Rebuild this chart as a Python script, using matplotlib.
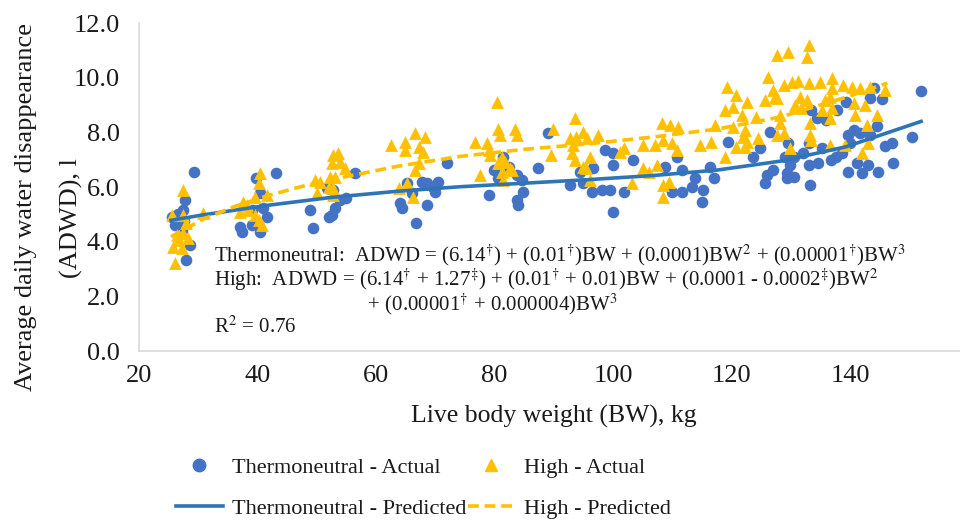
import matplotlib
matplotlib.use("Agg")
import matplotlib.pyplot as plt
from matplotlib.lines import Line2D

plt.rcParams['font.family'] = ['Liberation Serif', 'DejaVu Serif']
plt.rcParams['mathtext.fontset'] = 'stix'

# Thermoneutral - Actual (BW kg, ADWD l)
tn_bw = [29.2, 25.5, 26.1, 27.8, 27.5, 28.6, 28.0, 27.2, 26.5, 27.6,
         39.8, 43.2, 37.0, 37.4, 39.0, 40.4, 41.6, 40.4, 39.0, 40.9,
         56.4, 48.8, 49.4, 51.7, 52.7, 52.0, 52.5, 53.1, 53.9, 55.0,
         71.9, 64.0, 64.4, 66.8, 68.6, 65.2, 67.7, 68.6, 69.7, 70.0, 70.5, 66.0,
         79.0, 79.9, 80.6, 81.5, 82.4, 83.8, 84.6, 84.8, 83.8, 84.0,
         87.3, 89.1, 92.8, 94.4, 96.7, 95.0, 96.5, 98.1, 99.5, 98.6, 100.0, 100.0,
         100.0, 101.8, 103.4,
         108.8, 110.8, 111.6, 109.9, 111.6, 113.8, 113.3, 115.2, 115.0, 116.4,
         117.0, 119.4, 123.7, 124.8, 126.5, 126.0, 125.6, 127.0,
         151.9, 150.5, 147.3, 145.9, 147.1, 144.5, 145.4, 143.4, 144.0, 143.4,
         139.7, 140.6, 141.7, 140.0, 138.6, 139.7, 141.1, 142.0, 143.1, 144.8,
         136.8, 137.7, 134.6, 133.0, 132.1, 130.5, 129.0, 129.9, 129.3, 129.3,
         130.5, 133.3, 133.0, 137.8, 139.3, 134.4, 136.0, 133.4, 129.6, 135.2]
tn_adwd = [6.56, 4.91, 4.61, 5.52, 5.16, 3.88, 3.33, 4.43, 5.00, 4.75,
           6.33, 6.51, 4.55, 4.37, 4.61, 4.37, 4.91, 5.77, 5.16, 5.23,
           6.50, 5.16, 4.49, 5.95, 5.89, 4.91, 4.98, 5.22, 5.53, 5.59,
           6.87, 5.40, 5.22, 4.67, 5.34, 6.13, 6.19, 6.13, 6.01, 5.83, 6.19, 5.77,
           5.71, 6.62, 6.32, 7.11, 6.74, 6.44, 6.26, 5.83, 5.53, 5.34,
           6.68, 7.96, 6.07, 6.56, 6.68, 6.13, 5.83, 5.89, 5.89, 7.35, 6.81, 5.10,
           7.23, 5.83, 6.99,
           6.74, 7.11, 6.62, 5.83, 5.83, 6.32, 6.01, 5.89, 5.46, 6.74,
           6.32, 7.66, 7.11, 7.41, 8.02, 6.44, 6.13, 6.62,
           9.52, 7.84, 6.89, 7.50, 7.60, 8.23, 9.21, 9.27, 9.61, 7.90,
           7.90, 8.09, 7.96, 7.60, 7.23, 6.56, 6.87, 6.50, 6.81, 6.56,
           6.99, 7.11, 6.87, 6.81, 7.23, 7.11, 7.11, 6.81, 6.50, 6.32,
           6.38, 6.07, 7.60, 8.82, 9.12, 8.51, 8.45, 8.82, 7.60, 7.41]

# High - Actual
hi_bw = [27.5, 25.5, 27.5, 28.0, 26.4, 27.5, 28.3, 25.7, 27.2, 26.1, 26.5, 30.8,
         40.4, 40.2, 39.6, 41.6, 37.6, 37.0, 38.4, 39.6, 40.2, 40.7, 38.2,
         52.7, 53.6, 52.5, 53.9, 54.8, 49.7, 50.6, 52.2, 53.1, 52.0, 52.7, 50.0, 52.7,
         62.6, 64.9, 66.6, 68.3, 64.9, 67.2, 68.0, 66.6, 67.2, 65.2, 63.8, 66.3,
         80.4, 80.6, 83.4, 80.9, 83.8, 76.7, 78.7, 79.0, 79.2, 81.2, 80.6, 81.8,
         82.6, 81.2, 81.5, 82.9, 77.6,
         89.9, 89.6, 93.6, 95.0, 92.8, 93.8, 95.6, 97.5, 93.3, 93.0, 93.6, 96.1,
         95.0, 95.4, 96.1, 101.2,
         101.8, 105.1, 107.1, 108.2, 109.6, 111.0, 108.5, 109.9, 110.8, 107.4, 105.1,
         106.0, 103.2, 108.5, 109.4, 108.5,
         114.7, 116.6, 117.2, 118.9, 119.2, 120.8, 122.6, 120.3, 118.9, 121.7, 124.2,
         120.3, 122.3, 122.0, 122.6, 120.8, 124.5, 122.3, 126.2, 127.6, 127.0, 125.6,
         127.6,
         129.6, 133.0, 132.7, 128.8, 127.4, 130.2, 131.3, 133.0, 134.9, 136.9, 138.9,
         140.3, 141.7, 143.4, 145.9, 136.9, 136.6, 135.8, 131.6, 132.7, 130.7, 131.8,
         135.3, 136.9, 140.6, 142.5, 140.8, 144.5, 128.2, 128.2, 133.2, 136.6, 142.9,
         128.8, 127.7, 133.2, 133.5, 129.9, 136.6, 139.2, 143.1, 142.0]
hi_adwd = [5.89, 4.98, 4.98, 4.68, 4.24, 4.31, 4.13, 3.82, 3.77, 3.22, 4.06, 5.05,
           6.51, 6.13, 5.65, 5.71, 5.46, 5.10, 5.16, 4.98, 4.79, 4.61, 5.34,
           7.17, 7.23, 6.87, 6.93, 6.68, 6.26, 6.19, 6.38, 6.38, 6.01, 5.95, 5.77, 5.71,
           7.54, 7.66, 7.96, 7.84, 7.35, 7.47, 7.29, 6.62, 6.87, 6.13, 5.95, 5.65,
           9.12, 8.14, 8.14, 7.90, 7.90, 7.66, 7.60, 7.35, 7.17, 7.11, 6.87, 6.93,
           6.68, 6.56, 6.26, 6.62, 6.44,
           8.14, 7.17, 8.51, 8.03, 7.78, 7.84, 7.78, 7.90, 7.54, 7.23, 6.99, 7.11,
           6.74, 6.68, 6.26, 7.29,
           7.41, 7.54, 7.54, 8.33, 8.27, 8.20, 7.72, 7.60, 7.35, 6.81, 6.68,
           6.56, 6.13, 6.07, 6.19, 5.65,
           7.54, 7.66, 8.27, 7.11, 9.67, 9.37, 9.12, 8.94, 8.82, 8.64, 8.57,
           8.20, 8.09, 7.84, 7.66, 7.47, 7.78, 7.47, 10.04, 10.83, 9.55, 9.18,
           9.24,
           10.95, 11.20, 10.77, 9.73, 9.30, 9.85, 9.88, 9.82, 9.85, 10.00, 9.73,
           9.67, 9.61, 9.67, 9.55, 9.61, 9.30, 9.18, 9.30, 9.18, 9.00, 8.88,
           8.82, 8.88, 9.06, 9.00, 8.64, 8.64, 8.64, 8.33, 8.33, 8.51, 8.27,
           7.96, 7.90, 7.90, 7.72, 7.41, 7.54, 7.54, 7.60, 7.23]

# predicted curves
tn_pred_bw = [25.4, 30.8, 41.7, 52.5, 63.4, 74.2, 85.1, 95.9, 106.8, 117.6, 128.4,
              139.3, 152.0]
tn_pred = [4.78, 4.98, 5.33, 5.62, 5.84, 6.01, 6.14, 6.27, 6.42, 6.62, 6.95, 7.47, 8.40]
hi_pred_bw = [25.4, 30.8, 36.3, 41.7, 47.1, 52.5, 63.4, 74.2, 85.1, 95.9, 106.8,
              117.6, 128.4, 139.3, 146.3]
hi_pred = [4.18, 4.82, 5.30, 5.68, 6.00, 6.27, 6.75, 7.12, 7.38, 7.58, 7.83, 8.12,
           8.57, 9.28, 9.80]

eq_lines = [
    r'Thermoneutral:  ADWD = (6.14$^{\dagger}$) + (0.01$^{\dagger}$)BW'
    r' + (0.0001)BW$^{2}$ + (0.00001$^{\dagger}$)BW$^{3}$',
    r'High:  ADWD = (6.14$^{\dagger}$ + 1.27$^{\ddagger}$) + (0.01$^{\dagger}$'
    r' + 0.01)BW + (0.0001 - 0.0002$^{\ddagger}$)BW$^{2}$',
    r'$\hspace{10.2}$+ (0.00001$^{\dagger}$ + 0.000004)BW$^{3}$',
    r'R$^{2}$ = 0.76',
]

blue = '#4472C4'
line_blue = '#2E75B6'
gold = '#FFC000'
txt = '#1a1a1a'

fig = plt.figure(figsize=(9.6, 5.2), dpi=100)
ax = fig.add_axes([139 / 960, 1 - 351 / 520, 829.5 / 960, (351 - 23) / 520])

ax.scatter(tn_bw, tn_adwd, s=70, marker='o', color=blue, linewidths=0, zorder=2)
ax.scatter(hi_bw, hi_adwd, s=85, marker='^', color=gold, linewidths=0, zorder=3)
ax.plot(tn_pred_bw, tn_pred, color=line_blue, lw=2.6, zorder=4)
ax.plot(hi_pred_bw, hi_pred, color=gold, lw=2.6, ls=(0, (3, 1.6)), zorder=4)

ax.set_xlim(20, 160)
ax.set_ylim(0, 12)
ax.set_xticks(range(20, 141, 20))
ax.set_yticks(range(0, 13, 2))
ax.set_yticklabels([f'{v:.1f}' for v in range(0, 13, 2)])
ax.tick_params(length=0, labelsize=19, colors=txt)
ax.tick_params(axis='y', pad=14)
ax.tick_params(axis='x', pad=10)
for side in ['top', 'right']:
    ax.spines[side].set_visible(False)
for side in ['left', 'bottom']:
    ax.spines[side].set_color('#D9D9D9')
    ax.spines[side].set_linewidth(1.2)

ax.set_xlabel('Live body weight (BW), kg', fontsize=18.5, labelpad=13, color=txt)
# two-line y title, placed as two texts
fig.text(26 / 960, 1 - 207 / 520, 'Average daily water disappearance',
         fontsize=19, rotation=90, ha='center', va='center', color=txt)
fig.text(71 / 960, 1 - 218 / 520, '(ADWD), l',
         fontsize=19, rotation=90, ha='center', va='center', color=txt)

# regression equations as one text block
ax.text(32.66, 3.95, '\n'.join(eq_lines), fontsize=15, va='top', ha='left',
        linespacing=0.92, color=txt)

handles = [
    Line2D([], [], ls='none', marker='o', color=blue, markersize=9),
    Line2D([], [], color=line_blue, lw=2.6),
    Line2D([], [], ls='none', marker='^', color=gold, markersize=9),
    Line2D([], [], color=gold, lw=2.6, ls=(0, (3, 1.6))),
]
labels = ['Thermoneutral - Actual', 'Thermoneutral - Predicted',
          'High - Actual', 'High - Predicted']
leg = fig.legend(handles, labels, ncol=2, loc='upper left',
                 bbox_to_anchor=(176 / 960, 1 - 457 / 520), frameon=False,
                 fontsize=16, handlelength=2.1, handletextpad=0.4,
                 columnspacing=0.1, labelspacing=0.95, borderpad=0, borderaxespad=0)
for t in leg.get_texts():
    t.set_color(txt)

fig.savefig('out.png', dpi=100)
